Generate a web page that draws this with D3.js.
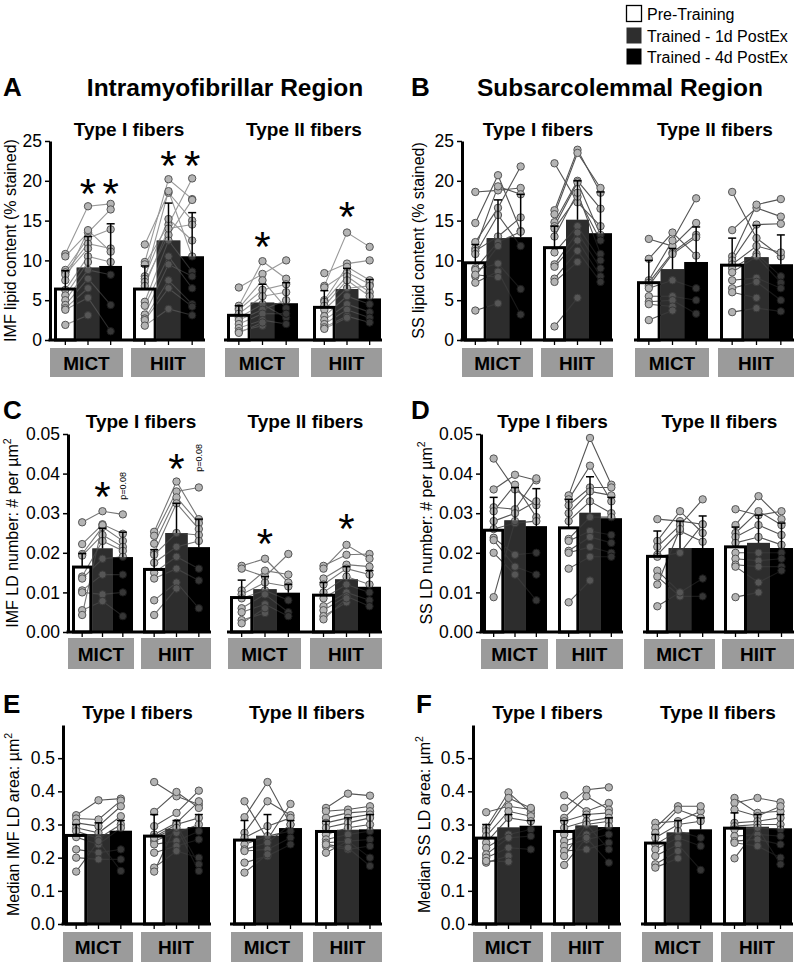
<!DOCTYPE html>
<html><head><meta charset="utf-8">
<script src="https://cdn.jsdelivr.net/npm/d3@7"></script>
<style>body{margin:0;background:#fff}svg{display:block}text{font-family:"Liberation Sans",Arial,Helvetica,sans-serif;fill:#000}</style>
</head><body><svg id="c" width="794" height="965"></svg>
<script>
const conditions = ["Pre-Training","Trained - 1d PostEx","Trained - 4d PostEx"];
const groupLabels = ["MICT","HIIT","MICT","HIIT"];
const fiberTypes = ["Type I fibers","Type II fibers"];

// ---------- Panel A: IMF lipid content (% stained)
const A_means = [[6.4,9.1,9.3],[6.4,12.5,10.5],[3.1,4.7,4.6],[4.1,6.4,5.2]];
const A_err = [[8.7,13.0,14.6],[9.3,17.2,16.0],[4.3,7.0,7.2],[6.2,9.0,7.6]];
const A_subjects = [
 [[10.8,16.8,17.1],[10.5,13.5,16.4],[8.8,12.8,13.9],[8.5,12.1,11.5],[8.2,11.5,null],[7.5,13.8,11.1],[6.3,10.5,9.8],[5.6,9.8,null],[5.0,8.8,8.2],[4.4,7.7,4.4],[4.0,6.5,null],[3.8,5.3,1.1],[1.9,3.1,null]],
 [[12.0,18.5,15.0],[9.8,20.2,17.7],[9.5,14.5,20.3],[8.0,15.2,12.5],[7.7,18.7,10.5],[7.3,13.2,17.6],[6.8,14.0,14.5],[4.8,12.5,8.6],[4.3,10.5,6.5],[3.2,9.5,8.0],[2.7,7.5,4.5],[2.5,6.5,4.2],[1.8,3.9,3.1]],
 [[6.6,8.3,10.0],[4.3,9.9,7.7],[4.0,7.5,4.0],[3.8,6.3,7.0],[3.3,5.5,6.0],[2.8,4.5,2.8],[2.5,3.8,5.0],[2.0,3.3,3.3],[1.5,2.5,2.0],[1.1,1.8,null],[0.9,2.2,null]],
 [[8.4,9.6,10.0],[6.8,13.5,11.7],[6.6,8.5,7.0],[5.0,9.2,7.5],[4.8,8.0,6.0],[4.3,7.5,5.5],[3.8,6.5,6.8],[3.0,5.5,4.5],[2.5,4.5,3.5],[2.0,3.8,2.8],[1.6,3.0,2.2],[1.4,2.8,null]]
];
const A_stars = [[0,1,19.5],[0,2,19.5],[1,1,23.0],[1,2,23.0],[2,1,12.8],[3,1,16.6]];
const A_ticks = [0,5,10,15,20,25];

// ---------- Panel B: SS lipid content (% stained)
const B_means = [[9.7,12.8,12.9],[11.6,15.1,13.4],[7.2,8.9,9.8],[9.4,10.4,9.5]];
const B_err = [[12.0,17.6,18.3],[14.3,20.0,18.6],[10.0,11.5,14.2],[12.8,14.4,13.2]];
const B_subjects = [
 [[18.6,18.8,19.1],[14.7,20.7,13.7],[12.3,16.6,21.8],[11.5,19.3,18.3],[11.2,13.0,15.4],[10.8,15.7,11.8],[9.0,12.3,13.6],[8.8,9.6,6.4],[8.0,11.8,null],[7.2,8.6,3.2],[3.7,4.6,null],[8.2,7.9,null]],
 [[22.2,17.3,14.3],[16.3,23.9,18.5],[15.8,23.5,19.1],[14.8,20.0,16.5],[14.3,19.8,13.2],[14.0,18.0,12.5],[13.0,18.5,10.8],[11.0,14.3,10.0],[9.5,13.5,9.0],[9.2,12.5,8.0],[7.7,11.2,7.3],[7.3,9.8,null],[1.7,5.3,null]],
 [[12.7,11.8,14.7],[10.2,13.5,10.6],[7.5,12.5,17.8],[7.2,11.0,13.2],[6.8,10.8,12.9],[6.5,7.5,6.5],[5.5,5.5,5.0],[4.8,5.0,3.3],[4.5,4.2,null],[2.5,3.7,null]],
 [[18.6,12.8,10.5],[13.8,16.6,15.5],[10.5,17.0,17.7],[10.0,14.5,14.6],[9.5,11.8,11.0],[9.0,10.8,8.0],[8.5,10.5,7.2],[7.5,7.8,6.5],[6.5,7.3,5.0],[6.0,5.3,null],[3.5,4.0,3.6]]
];
const B_stars = [];
const B_ticks = [0,5,10,15,20,25];

// ---------- Panel C: IMF LD number
const C_means = [[0.0164,0.0211,0.0189],[0.0158,0.0250,0.0214],[0.0087,0.0108,0.0099],[0.0093,0.0133,0.0114]];
const C_err = [[0.0198,0.0262,0.0252],[0.0208,0.0325,0.0285],[0.0131,0.0140,0.0120],[0.0125,0.0165,0.0155]];
const C_subjects = [
 [[0.0277,0.0305,0.0297],[0.0222,0.0272,0.0248],[0.0197,0.0265,0.0230],[0.0193,0.0245,0.0215],[0.0140,0.0230,0.0205],[0.0135,0.0185,0.0190],[0.0105,0.0145,0.0145],[0.0100,0.0095,0.0100],[0.0055,0.0078,0.0040],[0.0043,0.0270,null]],
 [[0.0253,0.0380,0.0285],[0.0243,0.0355,0.0365],[0.0223,0.0340,0.0275],[0.0200,0.0325,0.0260],[0.0195,0.0250,0.0245],[0.0175,0.0215,0.0230],[0.0150,0.0190,0.0160],[0.0135,0.0160,0.0130],[0.0080,0.0125,0.0060],[0.0043,0.0110,null]],
 [[0.0167,0.0185,0.0125],[0.0160,0.0140,0.0197],[0.0105,0.0155,0.0145],[0.0095,0.0125,0.0115],[0.0085,0.0105,0.0080],[0.0060,0.0095,0.0050],[0.0050,0.0070,0.0040],[0.0030,0.0048,null],[0.0022,0.0060,null]],
 [[0.0167,0.0195,0.0197],[0.0160,0.0220,0.0185],[0.0135,0.0170,0.0165],[0.0120,0.0160,0.0145],[0.0100,0.0140,0.0120],[0.0085,0.0120,0.0100],[0.0065,0.0100,0.0080],[0.0055,0.0090,0.0065],[0.0040,0.0075,null],[0.0032,0.0085,null]]
];
const C_stars = [[0,1,0.0363],[1,1,0.0434],[2,1,0.0245],[3,1,0.0282]];
const C_pnotes = [[0,2,0.0369,"p=0.08"],[1,2,0.0440,"p=0.08"]];
const C_ticks = [0,0.01,0.02,0.03,0.04,0.05];

// ---------- Panel D: SS LD number
const D_means = [[0.0257,0.0282,0.0267],[0.0263,0.0301,0.0287],[0.0191,0.0212,0.0212],[0.0215,0.0225,0.0212]];
const D_err = [[0.0340,0.0365,0.0362],[0.0335,0.0392,0.0340],[0.0255,0.0280,0.0293],[0.0265,0.0295,0.0275]];
const D_subjects = [
 [[0.0438,0.0360,0.0320],[0.0360,0.0397,0.0383],[0.0315,0.0310,0.0388],[0.0305,0.0372,0.0290],[0.0280,0.0300,0.0330],[0.0260,0.0275,0.0280],[0.0238,0.0195,0.0200],[0.0232,0.0165,0.0145],[0.0200,0.0145,0.0080],[0.0088,0.0280,null]],
 [[0.0345,0.0490,0.0372],[0.0335,0.0420,0.0330],[0.0320,0.0365,0.0365],[0.0300,0.0355,0.0345],[0.0280,0.0330,0.0300],[0.0235,0.0290,0.0290],[0.0230,0.0255,0.0245],[0.0205,0.0240,0.0225],[0.0200,0.0215,0.0200],[0.0160,0.0190,0.0190],[0.0075,0.0130,null]],
 [[0.0285,0.0280,0.0272],[0.0230,0.0305,0.0250],[0.0215,0.0270,0.0335],[0.0195,0.0255,0.0228],[0.0190,0.0200,0.0272],[0.0155,0.0100,0.0135],[0.0140,0.0090,0.0090],[0.0120,0.0260,null],[0.0065,0.0100,null]],
 [[0.0310,0.0295,0.0305],[0.0270,0.0343,0.0285],[0.0250,0.0305,0.0270],[0.0240,0.0270,0.0245],[0.0225,0.0240,0.0220],[0.0200,0.0200,0.0200],[0.0185,0.0180,0.0185],[0.0170,0.0165,0.0165],[0.0165,0.0125,0.0155],[0.0088,0.0100,null]]
];
const D_stars = [];
const D_ticks = [0,0.01,0.02,0.03,0.04,0.05];

// ---------- Panel E: Median IMF LD area
const E_means = [[0.267,0.271,0.281],[0.265,0.287,0.292],[0.253,0.266,0.289],[0.279,0.284,0.285]];
const E_err = [[0.300,0.305,0.312],[0.330,0.312,0.330],[0.312,0.330,0.312],[0.310,0.320,0.330]];
const E_subjects = [
 [[0.328,0.373,0.378],[0.318,0.315,0.372],[0.305,0.295,0.355],[0.290,0.275,0.325],[0.280,0.258,0.300],[0.262,0.240,0.290],[0.225,0.215,0.225],[0.200,0.195,0.195],[0.158,0.250,0.160]],
 [[0.428,0.385,0.360],[0.338,0.398,0.350],[0.295,0.335,0.402],[0.270,0.305,0.370],[0.262,0.300,0.320],[0.250,0.275,0.300],[0.240,0.250,0.280],[0.215,0.235,0.255],[0.170,0.220,0.200],[0.158,0.300,0.180],[0.260,0.290,0.160]],
 [[0.370,0.255,0.362],[0.322,0.428,0.300],[0.275,0.370,0.328],[0.260,0.295,0.320],[0.240,0.265,0.280],[0.225,0.245,0.300],[0.220,0.225,0.260],[0.185,0.205,0.240],[0.155,0.210,null]],
 [[0.350,0.393,0.387],[0.340,0.345,0.355],[0.320,0.335,0.340],[0.305,0.320,0.330],[0.290,0.305,0.320],[0.270,0.290,0.300],[0.255,0.270,0.280],[0.245,0.250,0.255],[0.235,0.225,0.235],[0.215,0.250,0.200],[0.240,0.230,0.175]]
];
const E_stars = [];
const E_ticks = [0,0.1,0.2,0.3,0.4,0.5];

// ---------- Panel F: Median SS LD area
const F_means = [[0.259,0.291,0.296],[0.279,0.297,0.292],[0.244,0.276,0.285],[0.289,0.293,0.288]];
const F_err = [[0.300,0.330,0.312],[0.312,0.330,0.320],[0.270,0.312,0.320],[0.335,0.330,0.330]];
const F_subjects = [
 [[0.337,0.355,0.345],[0.290,0.397,0.335],[0.280,0.380,0.350],[0.265,0.340,0.325],[0.245,0.320,0.310],[0.230,0.270,0.285],[0.210,0.260,0.265],[0.200,0.230,0.225],[0.185,0.205,null],[0.190,0.188,null]],
 [[0.388,0.340,0.365],[0.350,0.405,0.412],[0.320,0.385,0.345],[0.310,0.330,0.335],[0.290,0.310,0.320],[0.270,0.300,0.310],[0.250,0.270,0.295],[0.235,0.255,0.270],[0.220,0.225,0.245],[0.205,0.300,0.225],[0.178,0.260,0.185]],
 [[0.305,0.310,0.340],[0.290,0.355,0.355],[0.275,0.345,0.320],[0.260,0.300,0.310],[0.240,0.280,0.260],[0.225,0.260,0.235],[0.205,0.240,0.163],[0.180,0.220,null],[0.170,0.198,null]],
 [[0.380,0.335,0.340],[0.365,0.380,0.367],[0.345,0.325,0.355],[0.305,0.310,0.320],[0.295,0.300,0.300],[0.285,0.290,0.285],[0.265,0.270,0.265],[0.250,0.255,0.240],[0.245,0.235,0.200],[0.198,0.290,0.180]]
];
const F_stars = [];
const F_ticks = [0,0.1,0.2,0.3,0.4,0.5];

// ---------- layout (positions only)
const panels = [
 {letter:"A", title:"Intramyofibrillar Region", ylabel:["IMF lipid content (% stained)",""], means:A_means, err:A_err, subjects:A_subjects, stars:A_stars, notes:[], ticks:A_ticks, yMax:25, fmt:d3.format("d"),
  ax:50, y0:340, yTop:141, groups:[[54,122],[133,204],[227,298],[313,381]], boxY:348, boxH:29, letterXY:[3,96], titleXY:[225,96], headY:136, ylabX:16, lineCol:"#999"},
 {letter:"B", title:"Subsarcolemmal Region", ylabel:["SS lipid content (% stained)",""], means:B_means, err:B_err, subjects:B_subjects, stars:B_stars, notes:[], ticks:B_ticks, yMax:25, fmt:d3.format("d"),
  ax:462, y0:340, yTop:141, groups:[[464,532],[543,612],[637,708],[720,793]], boxY:348, boxH:29, letterXY:[411,96], titleXY:[620,96], headY:136, ylabX:424, lineCol:"#555"},
 {letter:"C", title:"", ylabel:["IMF LD number: # per µm","2"], means:C_means, err:C_err, subjects:C_subjects, stars:C_stars, notes:C_pnotes, ticks:C_ticks, yMax:0.05, fmt:d3.format(".2f"),
  ax:68, y0:632, yTop:434, groups:[[72,133],[143,210],[230,300],[312,381]], boxY:638, boxH:31, letterXY:[3,419], titleXY:null, headY:428, ylabX:18, lineCol:"#777"},
 {letter:"D", title:"", ylabel:["SS LD number: # per µm","2"], means:D_means, err:D_err, subjects:D_subjects, stars:D_stars, notes:[], ticks:D_ticks, yMax:0.05, fmt:d3.format(".2f"),
  ax:481, y0:632, yTop:434, groups:[[483,547],[558,622],[646,714],[724,793]], boxY:639, boxH:30, letterXY:[411,419], titleXY:null, headY:428, ylabX:432, lineCol:"#555"},
 {letter:"E", title:"", ylabel:["Median IMF LD area: µm","2"], means:E_means, err:E_err, subjects:E_subjects, stars:E_stars, notes:[], ticks:E_ticks, yMax:0.6, fmt:d3.format(".1f"),
  ax:63, y0:924, yTop:725, groups:[[65,132],[143,210],[233,302],[315,381]], boxY:932, boxH:30, letterXY:[3,713], titleXY:null, headY:719, ylabX:19, lineCol:"#555"},
 {letter:"F", title:"", ylabel:["Median SS LD area: µm","2"], means:F_means, err:F_err, subjects:F_subjects, stars:F_stars, notes:[], ticks:F_ticks, yMax:0.6, fmt:d3.format(".1f"),
  ax:473, y0:924, yTop:725, groups:[[475,542],[553,620],[644,712],[723,792]], boxY:932, boxH:30, letterXY:[416,713], titleXY:null, headY:719, ylabX:430, lineCol:"#555"}
];
const barFill = ["#ffffff","#2e2e2e","#000000"];

const svg = d3.select("#c");

function drawPanel(p){
  const g = svg.append("g");
  const y = d3.scaleLinear().domain([0,p.yMax]).range([p.y0,p.yTop]);
  g.append("text").attr("x",p.letterXY[0]).attr("y",p.letterXY[1]).attr("font-size",26).attr("font-weight","bold").text(p.letter);
  if(p.titleXY) g.append("text").attr("x",p.titleXY[0]).attr("y",p.titleXY[1]).attr("text-anchor","middle").attr("font-size",24.5).attr("font-weight","bold").text(p.title);
  [[0,1],[2,3]].forEach((pair,i)=>{
    const cx = (p.groups[pair[0]][0]+p.groups[pair[1]][1])/2;
    g.append("text").attr("x",cx).attr("y",p.headY).attr("text-anchor","middle").attr("font-size",19).attr("font-weight","bold").text(fiberTypes[i]);
  });
  const yl = g.append("text").attr("transform",`translate(${p.ylabX},${(p.y0+p.yTop)/2}) rotate(-90)`)
    .attr("text-anchor","middle").attr("font-size",16);
  yl.append("tspan").text(p.ylabel[0]);
  if(p.ylabel[1]) yl.append("tspan").attr("dy",-7).attr("font-size",10.5).text(p.ylabel[1]);

  p.groups.forEach((ext,gi)=>{
    const x = d3.scaleBand().domain(conditions).range(ext).padding(0);
    const bw = x.bandwidth();
    const cx = c => x(c)+bw/2;
    const barRect = (ci) => {
      const c = conditions[ci], m = p.means[gi][ci];
      return ci===0 ? {x:x(c)+1.5, y:y(m), w:bw-3, h:p.y0-y(m)} : {x:x(c), y:y(m), w:bw, h:p.y0-y(m)};
    };
    conditions.forEach((c,ci)=>{
      const r = barRect(ci);
      g.append("rect").attr("x",r.x).attr("y",r.y).attr("width",r.w).attr("height",r.h).attr("fill",barFill[ci]);
    });
    const line = d3.line().defined(d=>d[1]!=null).x(d=>cx(d[0])).y(d=>y(d[1]));
    p.subjects[gi].forEach(s=>{
      g.append("path").attr("d",line(conditions.map((c,ci)=>[c,s[ci]])))
        .attr("fill","none").attr("stroke",p.lineCol).attr("stroke-width",1.1);
    });
    p.subjects[gi].forEach(s=>{
      conditions.forEach((c,ci)=>{
        if(s[ci]==null) return;
        g.append("circle").attr("cx",cx(c)).attr("cy",y(s[ci])).attr("r",3.7)
          .attr("fill","#b4b4b4").attr("stroke","#555").attr("stroke-width",1);
      });
    });
    conditions.forEach((c,ci)=>{
      if(ci===0) return;
      const r = barRect(ci);
      g.append("rect").attr("x",r.x).attr("y",r.y).attr("width",r.w).attr("height",r.h).attr("fill",barFill[ci]).attr("fill-opacity",0.7);
    });
    const r0 = barRect(0);
    g.append("rect").attr("x",r0.x).attr("y",r0.y).attr("width",r0.w).attr("height",r0.h)
      .attr("fill","none").attr("stroke","#000").attr("stroke-width",3);
    conditions.forEach((c,ci)=>{
      const m = p.means[gi][ci], e = p.err[gi][ci];
      g.append("line").attr("x1",cx(c)).attr("x2",cx(c)).attr("y1",y(m)).attr("y2",y(e)).attr("stroke","#000").attr("stroke-width",1.5);
      g.append("line").attr("x1",cx(c)-4).attr("x2",cx(c)+4).attr("y1",y(e)).attr("y2",y(e)).attr("stroke","#000").attr("stroke-width",1.5);
      g.append("line").attr("x1",cx(c)).attr("x2",cx(c)).attr("y1",p.y0).attr("y2",p.y0+5).attr("stroke","#000").attr("stroke-width",1.3);
    });
    const bx0 = gi===0 ? p.ax : ext[0]-2;
    const bx1 = ext[1]+1;
    g.append("rect").attr("x",bx0).attr("y",p.boxY).attr("width",bx1-bx0).attr("height",p.boxH).attr("fill","#9b9b9b");
    g.append("text").attr("x",(bx0+bx1)/2).attr("y",p.boxY+p.boxH/2+7).attr("text-anchor","middle")
      .attr("font-size",19).attr("font-weight","bold").text(groupLabels[gi]);
    p.stars.filter(s=>s[0]===gi).forEach(s=>{
      g.append("text").attr("x",cx(conditions[s[1]])).attr("y",y(s[2])+23).attr("text-anchor","middle")
        .attr("font-size",42).text("*");
    });
    p.notes.filter(s=>s[0]===gi).forEach(s=>{
      g.append("text").attr("transform",`translate(${cx(conditions[s[1]])+3},${y(s[2])}) rotate(-90)`)
        .attr("text-anchor","middle").attr("font-size",9).text(s[3]);
    });
  });
  g.append("line").attr("x1",p.ax-1.5).attr("x2",p.groups[1][1]+1).attr("y1",p.y0).attr("y2",p.y0).attr("stroke","#000").attr("stroke-width",3);
  g.append("line").attr("x1",p.groups[2][0]-3).attr("x2",p.groups[3][1]+1).attr("y1",p.y0).attr("y2",p.y0).attr("stroke","#000").attr("stroke-width",3);
  const axg = g.append("g").attr("transform",`translate(${p.ax},0)`)
    .call(d3.axisLeft(y).tickValues(p.ticks).tickFormat(p.fmt).tickSize(5).tickSizeOuter(0).tickPadding(3));
  axg.select(".domain").attr("stroke-width",3).attr("stroke","#000");
  axg.selectAll(".tick line").attr("stroke-width",1.5);
  axg.selectAll(".tick text").attr("font-size",17.5).attr("fill","#000").attr("font-family",'"Liberation Sans",Arial,sans-serif');
}
panels.forEach(drawPanel);

const leg = svg.append("g");
conditions.forEach((c,i)=>{
  const yy = [5,27,48][i];
  leg.append("rect").attr("x",626.5).attr("y",yy+0.5).attr("width",15).attr("height",16)
    .attr("fill",barFill[i]).attr("stroke","#000").attr("stroke-width",i===0?1.3:0);
  leg.append("text").attr("x",647).attr("y",yy+14.5).attr("font-size",16).text(c);
});
</script></body></html>
